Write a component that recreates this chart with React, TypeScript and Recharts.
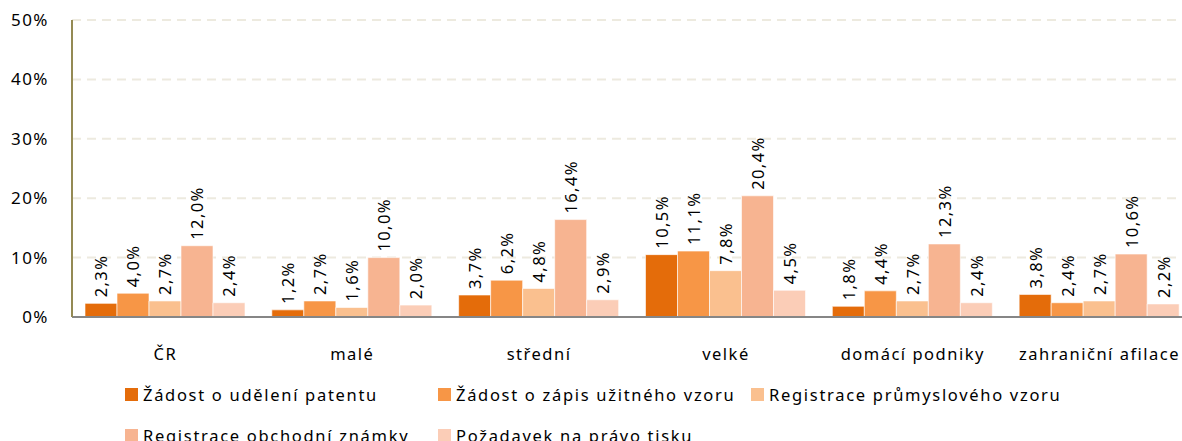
import { BarChart, Bar, XAxis, YAxis, CartesianGrid, Legend, LabelList } from "recharts"

const categories = ["ČR", "malé", "střední", "velké", "domácí podniky", "zahraniční afilace"]

const seriesNames = [
  "Žádost o udělení patentu",
  "Žádost o zápis užitného vzoru",
  "Registrace průmyslového vzoru",
  "Registrace obchodní známky",
  "Požadavek na právo tisku",
]

const patent = [2.3, 1.2, 3.7, 10.5, 1.8, 3.8]
const uzitnyVzor = [4.0, 2.7, 6.2, 11.1, 4.4, 2.4]
const prumyslovyVzor = [2.7, 1.6, 4.8, 7.8, 2.7, 2.7]
const znamka = [12.0, 10.0, 16.4, 20.4, 12.3, 10.6]
const tisk = [2.4, 2.0, 2.9, 4.5, 2.4, 2.2]

const yTicks = [0, 10, 20, 30, 40, 50]

const COLORS = ["#E46C0A", "#F79646", "#FAC08F", "#F7B491", "#FBCDB7"]
const FONT = "'Noto Sans', sans-serif"

const allSeries = [patent, uzitnyVzor, prumyslovyVzor, znamka, tisk]
const data = categories.map((name, i) => {
  const row: any = { name }
  allSeries.forEach((s, k) => (row["s" + k] = s[i]))
  return row
})

const fmt = (v: number) => v.toFixed(1).replace(".", ",") + "%"

const renderLabel = (props: any) => {
  const { x, y, width, value } = props
  const cx = x + width / 2
  const ty = y - 6
  return (
    <text
      x={cx}
      y={ty}
      transform={`rotate(-90, ${cx}, ${ty})`}
      textAnchor="start"
      dominantBaseline="central"
      fill="#000"
      fontSize={16.5}
      letterSpacing={1.4}
      fontFamily={FONT}
    >
      {fmt(value)}
    </text>
  )
}

const renderLegend = () => (
  <div
    style={{
      display: "flex",
      flexWrap: "wrap",
      paddingLeft: 125,
      fontFamily: FONT,
      fontSize: 16.5,
      letterSpacing: 1.7,
      color: "#000",
    }}
  >
    {seriesNames.map((n, i) => (
      <div key={n} style={{ width: 313, height: 41, display: "flex", alignItems: "center" }}>
        <span style={{ width: 13, height: 13, background: COLORS[i], marginRight: 5, flexShrink: 0 }} />
        <span style={{ whiteSpace: "nowrap" }}>{n}</span>
      </div>
    ))}
  </div>
)

export default function App() {
  return (
    <div style={{ width: 1182, height: 441, overflow: "hidden", position: "relative" }}>
      <style>{`body{margin:0;overflow:hidden}`}</style>
      <BarChart
        width={1200}
        height={441}
        data={data}
        margin={{ top: 20, right: 7, bottom: 4, left: 0 }}
        barCategoryGap={13}
        barGap={0}
      >
        <CartesianGrid vertical={false} stroke="#EDEADF" strokeWidth={2} strokeDasharray="9 6" />
        <XAxis
          dataKey="name"
          tickLine={false}
          tickSize={0}
          tickMargin={31}
          height={50}
          axisLine={{ stroke: "#868686", strokeWidth: 2 }}
          tick={{ fill: "#000", fontSize: 16.5, fontFamily: FONT, letterSpacing: 1.5 }}
          interval={0}
        />
        <YAxis
          domain={[0, 50]}
          ticks={yTicks}
          width={72}
          tickLine={false}
          tickSize={0}
          tickMargin={23}
          tickFormatter={(v: number) => `${v}%`}
          axisLine={{ stroke: "#948A54", strokeWidth: 2 }}
          tick={{ fill: "#000", fontSize: 17, fontFamily: FONT, letterSpacing: 1.5 }}
        />
        <Legend
          verticalAlign="bottom"
          height={70}
          content={renderLegend}
          wrapperStyle={{ top: 374, left: 0, width: 1182 }}
        />
        {seriesNames.map((n, i) => (
          <Bar
            key={n}
            dataKey={"s" + i}
            name={n}
            fill={COLORS[i]}
            stroke="#ffffff"
            strokeOpacity={0.6}
            strokeWidth={1}
            isAnimationActive={false}
          >
            <LabelList dataKey={"s" + i} content={renderLabel} />
          </Bar>
        ))}
      </BarChart>
    </div>
  )
}
